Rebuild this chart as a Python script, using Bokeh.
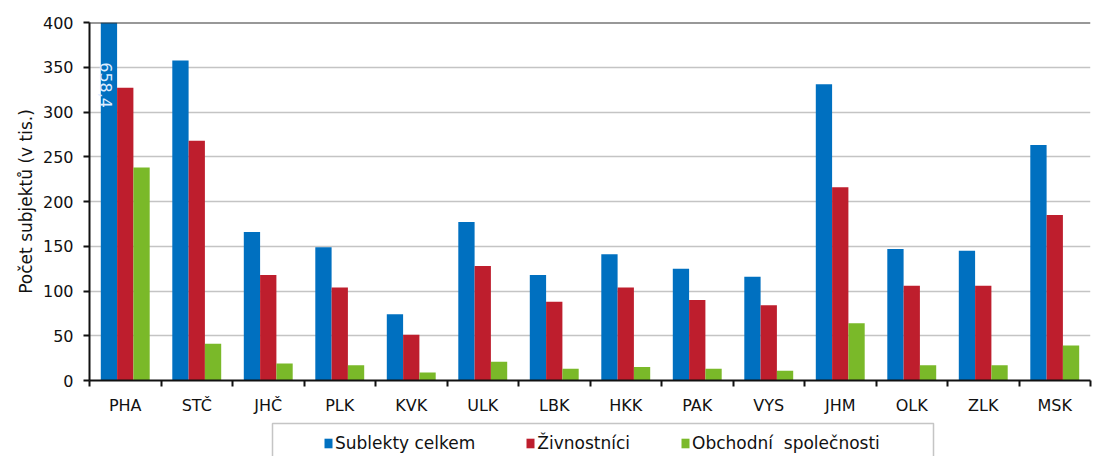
import math
from bokeh.plotting import figure
from bokeh.layouts import column
from bokeh.models import (Range1d, FixedTicker, ColumnDataSource, Legend, LegendItem,
                          Span, BoxAnnotation)
from bokeh.transform import dodge
from bokeh.core.properties import value
from bokeh.embed import file_html
from bokeh.resources import INLINE

# ---- data ----
regions = ["PHA", "STČ", "JHČ", "PLK", "KVK", "ULK", "LBK", "HKK", "PAK", "VYS",
           "JHM", "OLK", "ZLK", "MSK"]
subjekty_celkem = [658.4, 357.5, 166, 149, 74, 177, 118, 141, 125, 116, 331, 147, 145, 263]
zivnostnici = [327, 268, 118, 104, 51, 128, 88, 104, 90, 84, 216, 106, 106, 185]
obchodni_spolecnosti = [238, 41, 19, 17, 9, 21, 13, 15, 13, 11, 64, 17, 17, 39]
series_names = ["Sublekty celkem", "Živnostníci", "Obchodní  společnosti"]
y_ticks = [0, 50, 100, 150, 200, 250, 300, 350, 400]
y_title = "Počet subjektů (v tis.)"

colors = ["#0070c0", "#be1e2d", "#7ab929"]
FONT = "DejaVu Sans"
W = 1098
H_MAIN = 417
H_LEG = 39
LEFT = 89
RIGHT = 8

n = len(regions)
xs = list(range(n))
src = ColumnDataSource(dict(x=xs, a=subjekty_celkem, b=zivnostnici, c=obchodni_spolecnosti))

p = figure(width=W, height=H_MAIN, output_backend="svg", toolbar_location=None,
           x_range=Range1d(-0.5, n - 0.5), y_range=Range1d(y_ticks[0], y_ticks[-1]),
           min_border_left=LEFT, min_border_right=RIGHT, min_border_top=22, min_border_bottom=37)
p.outline_line_color = None

bw = 0.228
r1 = p.vbar(x=dodge("x", -bw, range=p.x_range), top="a", width=bw, source=src,
            fill_color=colors[0], line_color=None)
r2 = p.vbar(x="x", top="b", width=bw, source=src, fill_color=colors[1], line_color=None)
r3 = p.vbar(x=dodge("x", bw, range=p.x_range), top="c", width=bw, source=src,
            fill_color=colors[2], line_color=None)

# value label for the clipped bar
lab_src = ColumnDataSource(dict(x=[xs[0] - bw], y=[y_ticks[-1] - 70],
                                t=[f"{subjekty_celkem[0]:.1f}".replace(".", ",")]))
p.text(x="x", y="y", text="t", source=lab_src, angle=-math.pi / 2,
       text_align="center", text_baseline="middle", x_offset=-3,
       text_color="#dcecff", text_font=value(FONT), text_font_size="16px")

# axes
p.yaxis.ticker = FixedTicker(ticks=y_ticks)
p.yaxis.axis_label = y_title
p.yaxis.axis_label_text_font = FONT
p.yaxis.axis_label_text_font_size = "17px"
p.yaxis.axis_label_text_font_style = "normal"
p.yaxis.axis_label_text_color = "#111111"
p.yaxis.axis_label_standoff = 4
p.yaxis.major_label_text_font = FONT
p.yaxis.major_label_text_font_size = "16px"
p.yaxis.major_label_text_color = "#111111"
p.yaxis.major_label_standoff = 10
p.yaxis.major_tick_out = 6
p.yaxis.major_tick_in = 0
p.yaxis.minor_tick_line_color = None
p.yaxis.axis_line_width = 2
p.yaxis.axis_line_color = "#111111"
p.yaxis.major_tick_line_width = 2
p.yaxis.major_tick_line_color = "#111111"

p.xaxis.ticker = FixedTicker(ticks=xs, minor_ticks=[i + 0.5 for i in range(-1, n)])
p.xaxis.major_label_overrides = {i: r for i, r in zip(xs, regions)}
p.xaxis.major_label_text_font = FONT
p.xaxis.major_label_text_font_size = "16px"
p.xaxis.major_label_text_color = "#111111"
p.xaxis.major_label_standoff = 9
p.xaxis.major_tick_line_color = None
p.xaxis.minor_tick_out = 6
p.xaxis.minor_tick_in = 0
p.xaxis.minor_tick_line_color = "#111111"
p.xaxis.minor_tick_line_width = 2
p.xaxis.axis_line_width = 2
p.xaxis.axis_line_color = "#111111"

p.xgrid.grid_line_color = None
p.ygrid.grid_line_color = "#c4c4c4"
p.ygrid.grid_line_width = 1.5

p.add_layout(Span(location=y_ticks[-1], dimension="width", line_color="#333333", line_width=2))

# ---- legend strip (separate figure; its frame is aligned with the main frame) ----
q = figure(width=W, height=H_LEG, output_backend="svg", toolbar_location=None,
           x_range=Range1d(LEFT, W - RIGHT), y_range=Range1d(0, H_LEG),
           x_axis_type=None, y_axis_type=None,
           min_border_left=LEFT, min_border_right=RIGHT, min_border_top=0, min_border_bottom=0)
q.outline_line_color = None
q.xgrid.grid_line_color = None
q.ygrid.grid_line_color = None
lr = [q.vbar(x=[-1000], top=[0], width=1, fill_color=c, line_color=None) for c in colors]

q.add_layout(BoxAnnotation(left=272, right=933, top=H_LEG - 6, bottom=-30,
                           fill_color=None, fill_alpha=0,
                           line_color="#404040", line_width=1.5))
legend = Legend(items=[LegendItem(label=nm, renderers=[r]) for nm, r in zip(series_names, lr)],
                orientation="horizontal", location=(323 - LEFT, 3), margin=0,
                label_text_font=FONT, label_text_font_size="17px", label_text_color="#111111",
                glyph_width=10, glyph_height=12, label_standoff=2, spacing=50,
                padding=10, border_line_color=None, background_fill_alpha=0)
q.add_layout(legend)

open("out.html", "w").write(file_html(column(p, q, spacing=0), INLINE))
